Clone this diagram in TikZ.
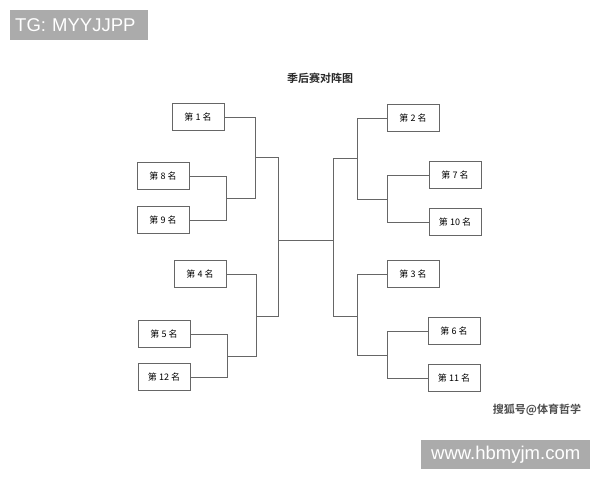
\documentclass[tikz,border=0pt]{standalone}
\usepackage{fontspec}
\setmainfont{Liberation Sans}
\newfontfamily\cjk{Noto Sans CJK SC}[BoldFont={Noto Sans CJK SC Bold}]
\usepackage{tikz}
\usetikzlibrary{calc}

\begin{document}
\begin{tikzpicture}[x=1pt,y=-1pt]
\tikzset{
	rank box/.style = {draw=black!60, line width=0.8pt, minimum width=52, minimum height=27, inner sep=0, font=\cjk\fontsize{9}{10}\selectfont},
	tag box/.style = {fill=black!33, text=white, inner sep=0, font=\fontsize{18.5}{19}\selectfont},
	link/.style = {draw=black!60, line width=0.8pt},
}
\useasboundingbox (0,0) rectangle (600,480);

% watermarks
\node(tgtag)[tag box, minimum width=138, minimum height=30, anchor=north west, text width=128, align=left] at (10,10) {TG: MYYJJPP};
\node(webtag)[tag box, minimum width=169, minimum height=29, anchor=north west] at (421,440) {www.hbmyjm.com\hspace{4pt}};
\node(sohu)[font=\cjk\bfseries\fontsize{11}{12}\selectfont, text=black!70] at (537,410) {搜狐号@体育哲学};

\node(title)[font=\cjk\bfseries\fontsize{11}{12}\selectfont, text=black!85] at (320,78) {季后赛对阵图};

% teams
\foreach \n/\x/\y in {1/198/117, 8/163/176, 9/163/220, 4/200/274, 5/164/334, 12/164/377,
	2/413/118, 7/455/175, 10/455/222, 3/413/274, 6/454/331, 11/454/378}
	\node(r\n)[rank box] at (\x,\y) {第 \n\ 名};

% junctions
\coordinate(m89) at (226,198);
\coordinate(m189) at (255,157);
\coordinate(m512) at (227,356);
\coordinate(m4512) at (256,316);
\coordinate(cL) at (278,240);
\coordinate(m710) at (387,199);
\coordinate(m2710) at (357,158);
\coordinate(m611) at (387,355);
\coordinate(m3611) at (357,316);
\coordinate(cR) at (333,240);

% left half
\draw[link] (r8.east) -| (m89);
\draw[link] (r9.east) -| (m89);
\draw[link] (m89) -| (m189);
\draw[link] (r1.east) -| (m189);
\draw[link] (r5.east) -| (m512);
\draw[link] (r12.east) -| (m512);
\draw[link] (m512) -| (m4512);
\draw[link] (r4.east) -| (m4512);
\draw[link] (m189) -| (cL);
\draw[link] (m4512) -| (cL);

% right half
\draw[link] (r7.west) -| (m710);
\draw[link] (r10.west) -| (m710);
\draw[link] (m710) -| (m2710);
\draw[link] (r2.west) -| (m2710);
\draw[link] (r6.west) -| (m611);
\draw[link] (r11.west) -| (m611);
\draw[link] (m611) -| (m3611);
\draw[link] (r3.west) -| (m3611);
\draw[link] (m2710) -| (cR);
\draw[link] (m3611) -| (cR);

\draw[link] (cL) -- (cR);

\end{tikzpicture}
\end{document}
